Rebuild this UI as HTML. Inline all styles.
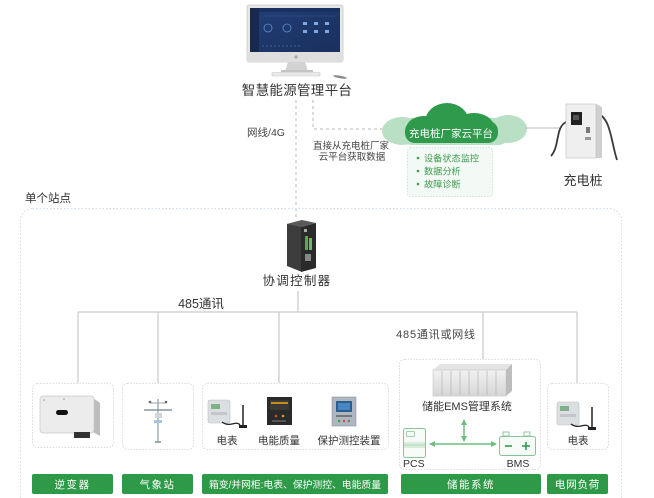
<!DOCTYPE html>
<html>
<head>
<meta charset="utf-8">
<style>
html,body{margin:0;padding:0;background:#fff;}
body{width:654px;height:498px;overflow:hidden;}
svg{display:block;}
text{font-family:"Liberation Sans","Noto Sans CJK SC",sans-serif;}
</style>
</head>
<body>
<svg width="654" height="498" viewBox="0 0 654 498" xmlns="http://www.w3.org/2000/svg">
<defs>
  <linearGradient id="scr" x1="0" y1="0" x2="1" y2="1">
    <stop offset="0" stop-color="#223f78"/>
    <stop offset="1" stop-color="#1a2f5c"/>
  </linearGradient>
  <linearGradient id="ems" x1="0" y1="0" x2="0" y2="1">
    <stop offset="0" stop-color="#f2f2f2"/>
    <stop offset="1" stop-color="#d6d6d6"/>
  </linearGradient>
  <marker id="ga" markerWidth="6" markerHeight="6" refX="5" refY="3" orient="auto-start-reverse" markerUnits="userSpaceOnUse">
    <path d="M0,0 L6,3 L0,6 z" fill="#6dbd80"/>
  </marker>
</defs>

<!-- ===== Monitor ===== -->
<rect x="247" y="5" width="96" height="57" rx="2" fill="#e6e6e6" stroke="#c9c9c9" stroke-width="0.8"/>
<rect x="250" y="8" width="90" height="44" fill="url(#scr)"/>
<rect x="250" y="8" width="9" height="44" fill="#17294f"/>
<rect x="259" y="8" width="81" height="4" fill="#1a3263"/>
<circle cx="268" cy="28" r="4" fill="none" stroke="#5d8ed0" stroke-width="0.8"/>
<circle cx="287" cy="28" r="4" fill="none" stroke="#5d8ed0" stroke-width="0.8"/>
<rect x="303" y="22" width="4" height="3" fill="#7fa8e0"/>
<rect x="314" y="22" width="4" height="3" fill="#7fa8e0"/>
<rect x="325" y="22" width="4" height="3" fill="#7fa8e0"/>
<rect x="303" y="30" width="4" height="3" fill="#7fa8e0"/>
<rect x="314" y="30" width="4" height="3" fill="#7fa8e0"/>
<rect x="325" y="30" width="4" height="3" fill="#7fa8e0"/>
<line x1="262" y1="46" x2="300" y2="46" stroke="#4b6ea8" stroke-width="0.8" stroke-dasharray="2,2"/>
<line x1="262" y1="16" x2="335" y2="16" stroke="#35558f" stroke-width="0.6"/>
<rect x="247" y="52" width="96" height="10" fill="#dedede"/>
<circle cx="296" cy="57" r="1.6" fill="#aaa"/>
<polygon points="288,62 305,62 308,71 285,71" fill="#d2d2d2"/>
<rect x="281" y="70" width="32" height="2" fill="#c4c4c4"/>
<rect x="272" y="72.5" width="48" height="3.5" rx="1" fill="#e8e8e8" stroke="#c6c6c6" stroke-width="0.6"/>
<ellipse cx="340" cy="77" rx="7" ry="1.3" fill="#8a8a8a" transform="rotate(10 340 77)"/>

<text x="297" y="95" font-size="13.5" fill="#333" text-anchor="middle" letter-spacing="0.3">智慧能源管理平台</text>

<!-- dashed links -->
<line x1="296" y1="100" x2="296" y2="218" stroke="#b8b8b8" stroke-width="1" stroke-dasharray="3,3"/>
<polyline points="313,100 313,129 384,129" fill="none" stroke="#b8b8b8" stroke-width="1" stroke-dasharray="3,3"/>
<text x="266" y="136" font-size="10.5" fill="#444" text-anchor="middle">网线/4G</text>
<text x="351" y="149" font-size="9.5" fill="#444" text-anchor="middle">直接从充电桩厂家</text>
<text x="352" y="160" font-size="9.5" fill="#444" text-anchor="middle">云平台获取数据</text>

<!-- ===== Cloud ===== -->
<g fill="#b9e0c4">
  <ellipse cx="402" cy="131" rx="20" ry="14"/>
  <ellipse cx="508" cy="129" rx="19" ry="14"/>
  <rect x="400" y="118" width="110" height="27" rx="12"/>
</g>
<g fill="#2f9a4c">
  <ellipse cx="447" cy="122" rx="22" ry="19"/>
  <ellipse cx="424" cy="129" rx="18" ry="13"/>
  <ellipse cx="474" cy="127" rx="20" ry="14"/>
  <rect x="405" y="121" width="93" height="22" rx="10"/>
</g>
<text x="451" y="137" font-size="10.5" fill="#fff" text-anchor="middle">充电桩厂家云平台</text>
<line x1="525" y1="128" x2="560" y2="128" stroke="#bbb" stroke-width="1"/>

<!-- bullet box -->
<rect x="407.5" y="147.5" width="85" height="49" rx="3" fill="#f3f9f4" stroke="#cfe3d4" stroke-width="1" stroke-dasharray="1.5,1.5"/>
<g fill="#3f9d50" font-size="9.2">
  <circle cx="418" cy="158" r="1.3"/><text x="424" y="161.5">设备状态监控</text>
  <circle cx="418" cy="171" r="1.3"/><text x="424" y="174.5">数据分析</text>
  <circle cx="418" cy="184" r="1.3"/><text x="424" y="187.5">故障诊断</text>
</g>

<!-- ===== Charger ===== -->
<path d="M566,122 C555,128 560,146 551,156" fill="none" stroke="#3a3a3a" stroke-width="1.8"/>
<path d="M597,113 C611,118 611,142 617,160" fill="none" stroke="#3a3a3a" stroke-width="1.8"/>
<polygon points="596,104 602,107 602,158 596,158" fill="#cfcfcf"/>
<rect x="566" y="104" width="30" height="54" fill="#efefef" stroke="#bdbdbd" stroke-width="0.6"/>
<rect x="571" y="112" width="11" height="13" fill="#222"/>
<rect x="573" y="115" width="6" height="5" fill="#555"/>
<rect x="586" y="127" width="4" height="6" fill="#777"/>
<rect x="585" y="137" width="6" height="3" fill="#999"/>
<text x="583" y="185" font-size="13" fill="#333" text-anchor="middle">充电桩</text>

<!-- ===== Site container ===== -->
<text x="25" y="202" font-size="11.5" fill="#333">单个站点</text>
<rect x="20.5" y="208.5" width="601" height="310" rx="12" fill="none" stroke="#cfdce6" stroke-width="1" stroke-dasharray="1.5,2"/>

<!-- controller -->
<polygon points="287,224 302,220 302,272 287,266" fill="#3c3c3c"/>
<polygon points="287,224 302,220 316,223 301,227" fill="#5a5a5a"/>
<polygon points="301,227 316,223 316,268 301,272" fill="#2a2a2a"/>
<rect x="305" y="236" width="3" height="14" fill="#4caf50"/>
<rect x="309" y="238" width="3" height="12" fill="#66bb6a"/>
<rect x="305" y="254" width="6" height="7" fill="#888"/>
<rect x="304" y="229" width="3" height="3" fill="#aaa"/>
<text x="297" y="285" font-size="12.5" fill="#333" text-anchor="middle" letter-spacing="1.3">协调控制器</text>

<!-- bus -->
<g stroke="#c6c9cd" stroke-width="1.2" fill="none">
  <line x1="298" y1="291" x2="298" y2="312"/>
  <line x1="78" y1="312" x2="577" y2="312"/>
  <line x1="78" y1="312" x2="78" y2="383"/>
  <line x1="158" y1="312" x2="158" y2="383"/>
  <line x1="279" y1="312" x2="279" y2="383"/>
  <line x1="483" y1="312" x2="483" y2="359"/>
  <line x1="577" y1="312" x2="577" y2="383"/>
</g>
<text x="201" y="308" font-size="12.5" fill="#333" text-anchor="middle">485通讯</text>
<text x="436" y="338" font-size="11" fill="#444" text-anchor="middle" letter-spacing="0.8">485通讯或网线</text>

<!-- inner boxes -->
<g fill="#fff" stroke="#d6dde2" stroke-width="1" stroke-dasharray="1.5,1.5">
  <rect x="32.5" y="383.5" width="81" height="64" rx="5"/>
  <rect x="122.5" y="383.5" width="71" height="66" rx="5"/>
  <rect x="202.5" y="383.5" width="186" height="66" rx="5"/>
  <rect x="399.5" y="359.5" width="141" height="110" rx="5"/>
  <rect x="547.5" y="383.5" width="61" height="66" rx="5"/>
</g>

<!-- inverter -->
<polygon points="93,398 100,403 100,436 93,432" fill="#bdbdbd"/>
<rect x="40" y="396" width="54" height="37" rx="3" fill="#ececec" stroke="#c8c8c8" stroke-width="0.7"/>
<rect x="56" y="410" width="12" height="5" rx="2.5" fill="#111"/>
<rect x="74" y="432" width="16" height="6" fill="#333"/>
<circle cx="44" cy="400" r="0.8" fill="#999"/><circle cx="64" cy="399" r="0.8" fill="#999"/>

<!-- weather station -->
<line x1="158" y1="399" x2="158" y2="443" stroke="#b9c3cc" stroke-width="2"/>
<line x1="144" y1="410" x2="172" y2="410" stroke="#8b969f" stroke-width="1.5"/>
<line x1="150" y1="403" x2="166" y2="403" stroke="#9aa4ad" stroke-width="1"/>
<circle cx="150" cy="402" r="1.3" fill="#666"/><circle cx="166" cy="402" r="1.3" fill="#666"/>
<rect x="155" y="413" width="7" height="5" fill="#cfd6dc"/>
<rect x="154" y="420" width="8" height="3" fill="#a8c3de"/>
<rect x="155" y="441" width="6" height="2" fill="#9aa"/>

<!-- meter in box 3 -->
<g id="meter">
  <rect x="208" y="400" width="22" height="23" rx="2" fill="#dcdfe1" stroke="#b9bdc0" stroke-width="0.6"/>
  <rect x="211" y="404" width="9" height="5" fill="#7fb08a"/>
  <rect x="211" y="412" width="16" height="3" fill="#c3c7ca"/>
  <path d="M222,422 C230,428 236,420 240,425" fill="none" stroke="#222" stroke-width="1.3"/>
  <line x1="243" y1="405" x2="243" y2="427" stroke="#222" stroke-width="1.5"/>
  <rect x="239" y="425" width="8" height="3" fill="#222"/>
</g>
<text x="227" y="444" font-size="10.5" fill="#333" text-anchor="middle">电表</text>
<!-- power quality -->
<rect x="267" y="397" width="25" height="28" fill="#2a2a2a"/>
<rect x="270" y="400" width="19" height="10" fill="#3b3a35"/>
<rect x="271" y="402" width="17" height="2" fill="#c98a22"/>
<circle cx="276" cy="416" r="1.3" fill="#d94b2b"/><circle cx="283" cy="416" r="1.3" fill="#d9a02b"/>
<rect x="272" y="420" width="14" height="2" fill="#555"/>
<text x="279" y="444" font-size="10.5" fill="#333" text-anchor="middle">电能质量</text>
<!-- protection device -->
<rect x="332" y="397" width="24" height="29" fill="#aeb6bf" stroke="#8f99a3" stroke-width="0.6"/>
<rect x="336" y="401" width="16" height="11" fill="#2c5e8f"/>
<rect x="338" y="403" width="12" height="7" fill="#4a86c0"/>
<rect x="336" y="415" width="16" height="2" fill="#777"/>
<circle cx="339" cy="421" r="1.2" fill="#3c9a4c"/><circle cx="344" cy="421" r="1.2" fill="#d44"/><circle cx="349" cy="421" r="1.2" fill="#777"/>
<text x="349" y="444" font-size="10.5" fill="#333" text-anchor="middle">保护测控装置</text>

<!-- storage system -->
<polygon points="433,370 440,364 512,364 506,370" fill="#e4e4e4"/>
<rect x="433" y="370" width="73" height="26" fill="url(#ems)" stroke="#c6c6c6" stroke-width="0.6"/>
<polygon points="506,370 512,364 512,391 506,396" fill="#bdbdbd"/>
<g stroke="#b4b4b4" stroke-width="0.7">
  <line x1="442" y1="371" x2="442" y2="395"/><line x1="451" y1="371" x2="451" y2="395"/>
  <line x1="460" y1="371" x2="460" y2="395"/><line x1="469" y1="371" x2="469" y2="395"/>
  <line x1="478" y1="371" x2="478" y2="395"/><line x1="487" y1="371" x2="487" y2="395"/>
  <line x1="496" y1="371" x2="496" y2="395"/>
</g>
<text x="467" y="410" font-size="11" fill="#333" text-anchor="middle">储能EMS管理系统</text>
<line x1="464" y1="420" x2="464" y2="441" stroke="#6dbd80" stroke-width="1.5" marker-start="url(#ga)" marker-end="url(#ga)"/>
<line x1="430" y1="444" x2="496" y2="444" stroke="#6dbd80" stroke-width="1.5" marker-start="url(#ga)" marker-end="url(#ga)"/>
<!-- PCS -->
<rect x="403.5" y="428.5" width="22" height="29" rx="2" fill="#f6fbf7" stroke="#86c596" stroke-width="1"/>
<rect x="406.5" y="431.5" width="8" height="5" rx="1" fill="none" stroke="#86c596" stroke-width="0.8"/>
<rect x="404" y="442" width="21" height="6" fill="#d8eedd"/>
<line x1="404" y1="445" x2="425" y2="445" stroke="#86c596" stroke-width="0.6"/>
<text x="403" y="467" font-size="10.5" fill="#333">PCS</text>
<!-- BMS -->
<rect x="503" y="432" width="6" height="4" fill="none" stroke="#86c596" stroke-width="0.9"/>
<rect x="524" y="432" width="6" height="4" fill="none" stroke="#86c596" stroke-width="0.9"/>
<rect x="499.5" y="436.5" width="36" height="19" rx="2" fill="#f6fbf7" stroke="#86c596" stroke-width="1"/>
<line x1="505" y1="446" x2="512" y2="446" stroke="#2f9a4c" stroke-width="1.6"/>
<line x1="522" y1="446" x2="530" y2="446" stroke="#2f9a4c" stroke-width="1.6"/>
<line x1="526" y1="442" x2="526" y2="450" stroke="#2f9a4c" stroke-width="1.6"/>
<text x="518" y="467" font-size="10.5" fill="#333" text-anchor="middle">BMS</text>

<!-- load meter -->
<rect x="557" y="402" width="22" height="23" rx="2" fill="#dcdfe1" stroke="#b9bdc0" stroke-width="0.6"/>
<rect x="560" y="406" width="9" height="5" fill="#7fb08a"/>
<rect x="560" y="414" width="16" height="3" fill="#c3c7ca"/>
<path d="M571,424 C579,430 585,422 589,427" fill="none" stroke="#222" stroke-width="1.3"/>
<line x1="592" y1="407" x2="592" y2="429" stroke="#222" stroke-width="1.5"/>
<rect x="588" y="427" width="8" height="3" fill="#222"/>
<text x="578" y="444" font-size="10.5" fill="#333" text-anchor="middle">电表</text>

<!-- green labels -->
<g fill="#2e9a48">
  <rect x="32" y="474" width="81" height="20" rx="2"/>
  <rect x="122" y="474" width="71" height="20" rx="2"/>
  <rect x="202" y="474" width="186" height="20" rx="2"/>
  <rect x="401" y="474" width="140" height="20" rx="2"/>
  <rect x="547" y="474" width="61" height="20" rx="2"/>
</g>
<g fill="#fff" font-size="10.5" text-anchor="middle">
  <text x="72.5" y="488" letter-spacing="1.5">逆变器</text>
  <text x="157.5" y="488" letter-spacing="1.5">气象站</text>
  <text x="295" y="488" font-size="9.8">箱变/并网柜:电表、保护测控、电能质量</text>
  <text x="471" y="488" letter-spacing="1.5">储能系统</text>
  <text x="577.5" y="488" letter-spacing="0.8">电网负荷</text>
</g>
</svg>
</body>
</html>
